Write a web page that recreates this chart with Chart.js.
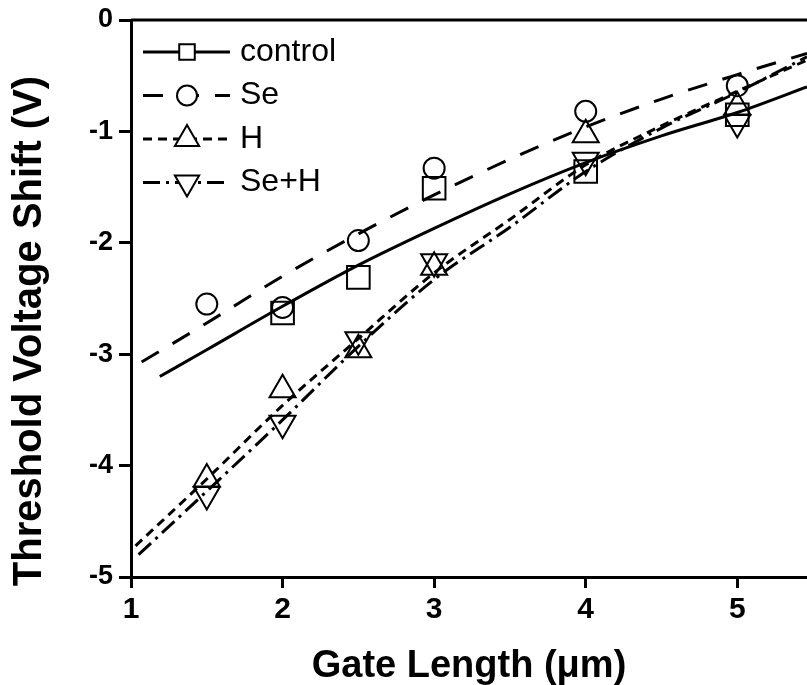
<!DOCTYPE html>
<html>
<head>
<meta charset="utf-8">
<script src="https://cdn.jsdelivr.net/npm/chart.js@4.4.1/dist/chart.umd.min.js"></script>
<style>
  html, body { margin: 0; padding: 0; background: #fff; overflow: hidden; }
  #chart-vth { display: block; }
</style>
</head>
<body>
<canvas id="chart-vth" width="807" height="685"></canvas>
<script>
// measured points (gate length in um, shift in V)
const gateLength = [1.5, 2, 2.5, 3, 4, 5];
const controlShift = [null, -2.63, -2.31, -1.51, -1.36, -0.85];
const seShift = [-2.55, -2.58, -1.98, -1.33, -0.82, -0.59];
const hShift = [-4.12, -3.32, -2.96, -2.22, -1.03, -0.78];
const seHShift = [-4.26, -3.62, -2.87, -2.17, -1.26, -0.92];

// fitted curves
const controlFitX = [1.19, 1.5, 2, 2.5, 3, 3.5, 4, 4.5, 5, 5.46];
const controlFitY = [-3.20, -2.96, -2.57, -2.20, -1.87, -1.56, -1.28, -1.04, -0.83, -0.60];
const seFitX = [1.07, 1.5, 2, 2.5, 3, 3.5, 4, 4.5, 5, 5.46];
const seFitY = [-3.07, -2.72, -2.30, -1.92, -1.57, -1.25, -0.96, -0.71, -0.49, -0.30];
const hFitX = [1.03, 1.5, 2, 2.5, 3, 3.5, 4, 4.5, 5, 5.46];
const hFitY = [-4.72, -4.12, -3.46, -2.86, -2.27, -1.79, -1.30, -0.95, -0.64, -0.36];
const seHFitX = [1.05, 1.5, 2, 2.5, 3, 3.5, 4, 4.5, 5, 5.46];
const seHFitY = [-4.80, -4.23, -3.59, -2.93, -2.33, -1.86, -1.36, -0.97, -0.65, -0.33];

const seriesNames = ['control', 'Se', 'H', 'Se+H'];
const xTicks = [1, 2, 3, 4, 5];
const yTicks = [0, -1, -2, -3, -4, -5];

const FONT = "'Liberation Sans', Arial, Helvetica, sans-serif";

const toPts = (xs, ys) => xs.map((x, i) => ({ x, y: ys[i] })).filter(p => p.y !== null);

const fitStyle = [
  { dash: [] },
  { dash: [20, 16] },
  { dash: [9, 6] },
  { dash: [17, 6, 3, 6] }
];
const markStyle = [
  { style: 'rect', radius: 16, rot: 0, key: 11 },
  { style: 'circle', radius: 10.5, rot: 0, key: 10 },
  { style: 'triangle', radius: 15, rot: 0, key: 14 },
  { style: 'triangle', radius: 15, rot: 180, key: 14 }
];

const fits = [
  toPts(controlFitX, controlFitY),
  toPts(seFitX, seFitY),
  toPts(hFitX, hFitY),
  toPts(seHFitX, seHFitY)
];
const marks = [controlShift, seShift, hShift, seHShift].map(ys => toPts(gateLength, ys));

const datasets = [];
fits.forEach((pts, i) => {
  datasets.push({
    label: seriesNames[i] + ' fit',
    data: pts,
    showLine: true,
    borderColor: '#000',
    borderWidth: 3,
    borderDash: fitStyle[i].dash,
    pointRadius: 0,
    cubicInterpolationMode: 'monotone',
    fill: false
  });
});
marks.forEach((pts, i) => {
  datasets.push({
    label: seriesNames[i],
    data: pts,
    showLine: false,
    pointStyle: markStyle[i].style,
    pointRadius: markStyle[i].radius,
    pointRotation: markStyle[i].rot,
    pointBorderColor: '#000',
    pointBackgroundColor: 'transparent',
    pointBorderWidth: 2
  });
});

// top frame line
const topFrame = {
  id: 'topFrame',
  afterDraw(chart) {
    const { ctx, chartArea } = chart;
    ctx.save();
    ctx.strokeStyle = '#000';
    ctx.lineWidth = 3;
    ctx.beginPath();
    ctx.moveTo(chartArea.left, chartArea.top);
    ctx.lineTo(chartArea.right, chartArea.top);
    ctx.stroke();
    ctx.restore();
  }
};

// legend with line sample + marker in the middle
const seriesKey = {
  id: 'seriesKey',
  afterDraw(chart) {
    const { ctx, chartArea } = chart;
    const x0 = chartArea.left + 12, x1 = chartArea.left + 99, xm = chartArea.left + 56;
    ctx.save();
    seriesNames.forEach((name, i) => {
      const y = chartArea.top + 32 + i * 43.5;
      ctx.strokeStyle = '#000';
      ctx.lineWidth = 3;
      ctx.setLineDash(fitStyle[i].dash);
      ctx.beginPath();
      ctx.moveTo(x0, y);
      ctx.lineTo(x1, y);
      ctx.stroke();
      ctx.setLineDash([]);
      ctx.fillStyle = '#fff';
      ctx.lineWidth = 2;
      Chart.helpers.drawPoint(ctx, {
        pointStyle: markStyle[i].style,
        rotation: markStyle[i].rot,
        radius: markStyle[i].key,
        borderWidth: 2
      }, xm, y);
      ctx.fillStyle = '#000';
      ctx.font = '32px ' + FONT;
      ctx.textAlign = 'left';
      ctx.textBaseline = 'middle';
      ctx.fillText(name, chartArea.left + 109, y);
    });
    ctx.restore();
  }
};

// y title sits lower than the axis centre in the original
const yTitle = {
  id: 'yTitle',
  afterDraw(chart) {
    const { ctx } = chart;
    ctx.save();
    ctx.translate(30, 331);
    ctx.rotate(-Math.PI / 2);
    ctx.fillStyle = '#000';
    ctx.font = 'bold 40px ' + FONT;
    ctx.textAlign = 'center';
    ctx.textBaseline = 'middle';
    ctx.fillText('Threshold Voltage Shift (V)', 0, 0);
    ctx.restore();
  }
};

new Chart(document.getElementById('chart-vth').getContext('2d'), {
  type: 'scatter',
  data: { datasets },
  options: {
    responsive: false,
    animation: false,
    layout: { autoPadding: false, padding: { top: 20, right: 0, left: 0, bottom: 0 } },
    plugins: {
      legend: { display: false },
      tooltip: { enabled: false }
    },
    scales: {
      x: {
        type: 'linear',
        min: 1,
        max: 5.46,
        afterFit: (s) => { s.height = 108; s.paddingRight = 0; s.paddingLeft = 0; },
        afterBuildTicks: (s) => { s.ticks = xTicks.map(v => ({ value: v })); },
        border: { display: true, color: '#000', width: 3 },
        grid: { drawOnChartArea: false, drawTicks: true, tickLength: 11, tickWidth: 3, tickColor: '#000' },
        ticks: {
          color: '#000',
          padding: 4,
          font: { family: FONT, size: 30, weight: 'bold' },
          maxRotation: 0
        },
        title: {
          display: true,
          text: 'Gate Length (\u03bcm)',
          color: '#000',
          padding: { top: 0, bottom: 0 },
          font: { family: FONT, size: 38, weight: 'bold', lineHeight: 0.95 }
        }
      },
      y: {
        type: 'linear',
        min: -5,
        max: 0,
        afterFit: (s) => { s.width = 131; s.paddingTop = 0; s.paddingBottom = 0; },
        afterBuildTicks: (s) => { s.ticks = yTicks.map(v => ({ value: v })); },
        border: { display: true, color: '#000', width: 3 },
        grid: { drawOnChartArea: false, drawTicks: true, tickLength: 12, tickWidth: 3, tickColor: '#000' },
        ticks: {
          color: '#000',
          padding: 6,
          font: { family: FONT, size: 27, weight: 'bold' }
        }
      }
    }
  },
  plugins: [topFrame, seriesKey, yTitle]
});
</script>
</body>
</html>
